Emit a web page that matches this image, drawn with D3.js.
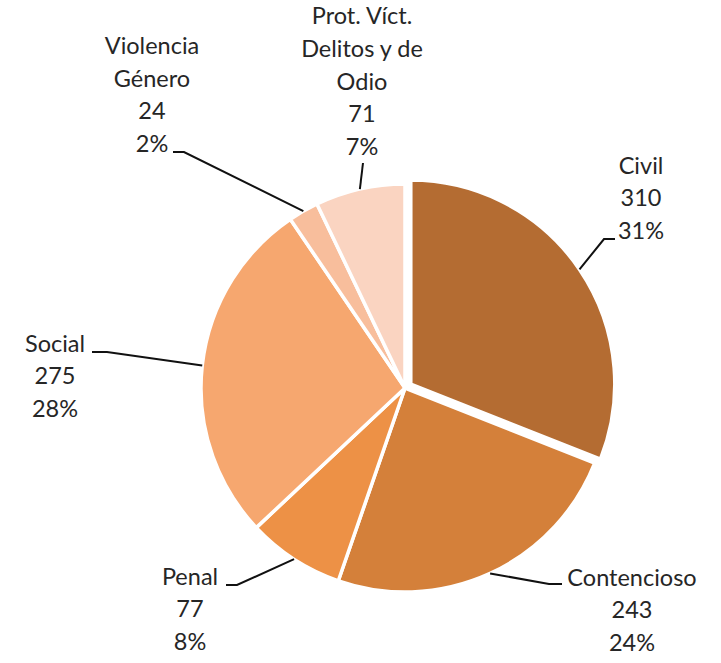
<!DOCTYPE html>
<html>
<head>
<meta charset="utf-8">
<script src="https://cdn.jsdelivr.net/npm/d3@7"></script>
<style>
  body { margin: 0; background: #fff; }
  text { font-family: Lato, "Open Sans", sans-serif; fill: #262626; }
</style>
</head>
<body>
<div id="chart"></div>
<script>
// Data
var categories = ["Civil", "Contencioso", "Penal", "Social", "Violencia Género", "Prot. Víct. Delitos y de Odio"];
var values = [310, 243, 77, 275, 24, 71];
var percentLabels = ["31%", "24%", "8%", "28%", "2%", "7%"];
var nameLines = [["Civil"], ["Contencioso"], ["Penal"], ["Social"], ["Violencia", "Género"], ["Prot. Víct.", "Delitos y de", "Odio"]];

var colors = ["#b46c32", "#d4803a", "#ed9146", "#f6a76f", "#f8be9c", "#fad4c1"];

var svgWidth = 721;
var svgHeight = 663;
var cx = 405, cy = 388, radius = 204;
var lineH = 32.7;

// label placement: centre x, baseline of last line, leader elbow and end
var labelLayout = [
  { x: 641, y: 239, elbow: [604, 239], end: [615, 239] },
  { x: 632, y: 651, elbow: [549, 584], end: [562, 584] },
  { x: 190, y: 650, elbow: [237, 585], end: [226, 585] },
  { x: 55,  y: 417, elbow: [107, 352], end: [92, 352] },
  { x: 152, y: 152, elbow: [184, 152], end: [173, 152] },
  { x: 362, y: 155, elbow: [363, 163], end: [363, 163] }
];
var explode = [7, 0, 0, 0, 0, 0];

var svg = d3.select("#chart")
  .append("svg")
  .attr("width", svgWidth)
  .attr("height", svgHeight);

var data = categories.map(function(c, i) {
  return { name: c, value: values[i], pct: percentLabels[i], lines: nameLines[i], i: i };
});

var pie = d3.pie().sort(null).value(d => d.value);
var arcs = pie(data);

var arc = d3.arc().innerRadius(0).outerRadius(radius);
var edgeArc = d3.arc().innerRadius(radius).outerRadius(radius);

function offset(d) {
  var a = (d.startAngle + d.endAngle) / 2;
  var e = explode[d.data.i];
  return [Math.sin(a) * e, -Math.cos(a) * e];
}

var pieGroup = svg.append("g")
  .attr("transform", `translate(${cx}, ${cy})`);

pieGroup.selectAll("path")
  .data(arcs)
  .enter()
  .append("path")
  .attr("d", arc)
  .attr("transform", d => `translate(${offset(d)[0]}, ${offset(d)[1]})`)
  .attr("fill", d => colors[d.data.i])
  .attr("stroke", "#fff")
  .attr("stroke-width", 3.5)
  .attr("stroke-linejoin", "round");

// leader lines
svg.selectAll("polyline")
  .data(arcs)
  .enter()
  .append("polyline")
  .attr("points", function(d) {
    var c = edgeArc.centroid(d);
    var o = offset(d);
    var L = labelLayout[d.data.i];
    var start = [cx + c[0] + o[0], cy + c[1] + o[1]];
    return [start, L.elbow, L.end].map(p => p.join(",")).join(" ");
  })
  .attr("fill", "none")
  .attr("stroke", "#111")
  .attr("stroke-width", 2);

// labels
var labels = svg.selectAll(".lbl")
  .data(arcs)
  .enter()
  .append("text")
  .attr("class", "lbl")
  .attr("text-anchor", "middle")
  .style("font-size", "23.5px");

labels.each(function(d) {
  var L = labelLayout[d.data.i];
  var all = d.data.lines.concat([String(d.data.value), d.data.pct]);
  var n = all.length;
  var t = d3.select(this);
  all.forEach(function(s, k) {
    t.append("tspan")
      .attr("x", L.x)
      .attr("y", L.y - (n - 1 - k) * lineH)
      .text(s);
  });
});
</script>
</body>
</html>
